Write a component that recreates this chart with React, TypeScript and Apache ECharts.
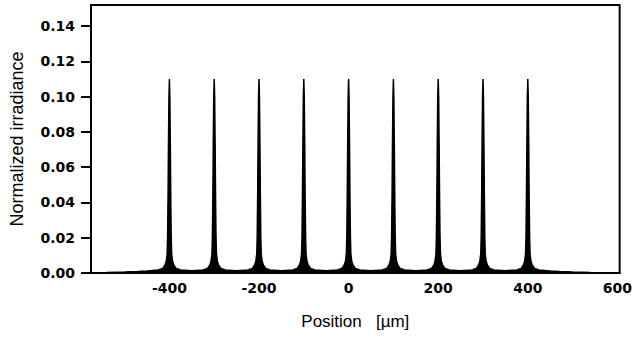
import React, { useEffect, useRef } from "react";
import * as echarts from "echarts";

// Peak centres (µm) and peak heights
const peakCenters = [-400, -300, -200, -100, 0, 100, 200, 300, 400];
const peakHeights = [0.11, 0.11, 0.11, 0.11, 0.11, 0.11, 0.11, 0.11, 0.11];

// Shape of one peak: offset from centre (µm) and irradiance relative to the peak top
const profileOffsets = [-25, -15, -10, -7, -5, -4, -3, -2, -1, 0, 1, 2, 3, 4, 5, 7, 10, 15, 25];
const profileValues = [0.016, 0.024, 0.04, 0.06, 0.1, 0.19, 0.4, 0.68, 0.91, 1, 0.91, 0.68, 0.4, 0.19, 0.1, 0.06, 0.04, 0.024, 0.016];

// Floor half-way between neighbouring peaks
const valleyX = [-350, -250, -150, -50, 50, 150, 250, 350];
const valleyY = [0.0013, 0.0013, 0.0013, 0.0013, 0.0013, 0.0013, 0.0013, 0.0013];

// Tails outside the comb
const leftTailX = [-575, -540, -500, -470, -450];
const leftTailY = [0.0002, 0.0003, 0.0005, 0.0008, 0.0011];
const rightTailX = [450, 470, 500, 540, 575, 605];
const rightTailY = [0.0011, 0.0008, 0.0005, 0.0003, 0.0002, 0.0002];

// Axis ticks
const xTicks = [-400, -200, 0, 200, 400, 600];
const yTicks = [0, 0.02, 0.04, 0.06, 0.08, 0.1, 0.12, 0.14];

function buildData(): [number, number][] {
  const pts: [number, number][] = [];
  leftTailX.forEach((x, i) => pts.push([x, leftTailY[i]]));
  peakCenters.forEach((c, p) => {
    profileOffsets.forEach((o, i) => pts.push([c + o, profileValues[i] * peakHeights[p]]));
  });
  valleyX.forEach((x, i) => pts.push([x, valleyY[i]]));
  rightTailX.forEach((x, i) => pts.push([x, rightTailY[i]]));
  pts.sort((a, b) => a[0] - b[0]);
  return pts;
}

export default function App() {
  const ref = useRef<HTMLDivElement>(null);
  useEffect(() => {
    if (!ref.current) return;
    const chart = echarts.init(ref.current, null, { renderer: "svg" });
    const tickFont = {
      fontFamily: "DejaVu Sans",
      fontWeight: "bold" as const,
      fontSize: 14,
      color: "#000",
    };
    chart.setOption({
      animation: false,
      backgroundColor: "#fff",
      grid: {
        left: 88,
        right: 15,
        top: 5,
        bottom: 68,
        show: true,
        borderColor: "#000",
        borderWidth: 2,
        backgroundColor: "transparent",
      },
      xAxis: {
        type: "value",
        min: -575,
        max: 605,
        name: "Position   [µm]",
        nameLocation: "middle",
        nameGap: 40,
        nameTextStyle: { fontFamily: "Liberation Sans", fontSize: 17, color: "#000" },
        axisLine: { show: true, onZero: false, lineStyle: { color: "#000", width: 2 } },
        axisTick: { show: false, customValues: xTicks },
        axisLabel: {
          ...tickFont,
          margin: 8,
          customValues: xTicks,
          formatter: (v: number) => String(v),
        },
        splitLine: { show: false },
      },
      yAxis: {
        type: "value",
        min: 0,
        max: 0.152,
        name: "Normalized irradiance",
        nameLocation: "middle",
        nameGap: 65,
        nameTextStyle: { fontFamily: "Liberation Sans", fontSize: 18, color: "#000" },
        axisLine: { show: true, onZero: false, lineStyle: { color: "#000", width: 2 } },
        axisTick: {
          show: true,
          length: 10,
          customValues: yTicks,
          lineStyle: { color: "#000", width: 2 },
        },
        axisLabel: {
          ...tickFont,
          margin: 16,
          customValues: yTicks,
          formatter: (v: number) => v.toFixed(2),
        },
        splitLine: { show: false },
      },
      series: [
        {
          type: "line",
          data: buildData(),
          showSymbol: false,
          symbol: "none",
          lineStyle: { color: "#000", width: 1.5 },
          areaStyle: { color: "#000", opacity: 1 },
        },
      ],
    });
    return () => chart.dispose();
  }, []);
  return (
    <div
      ref={ref}
      style={{ position: "fixed", left: 0, top: 0, width: 635, height: 341 }}
    />
  );
}
